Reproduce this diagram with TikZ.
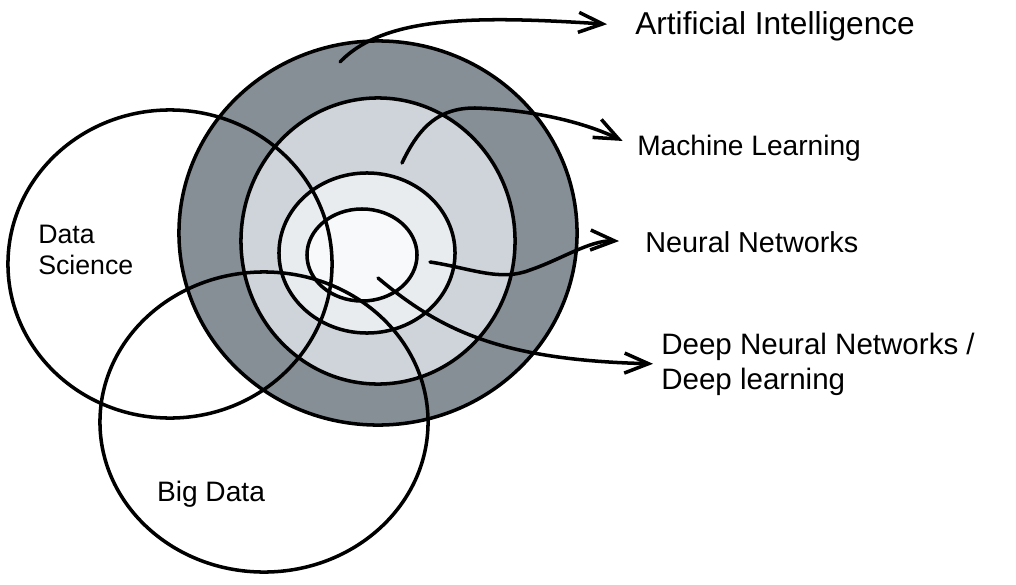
\documentclass[tikz,border=0pt]{standalone}
\usepackage{fontspec}
\setmainfont{Liberation Sans}
\usetikzlibrary{positioning,arrows.meta,shapes.geometric}
\definecolor{aigray}{HTML}{868E96}
\definecolor{mlgray}{HTML}{CED4DA}
\definecolor{nngray}{HTML}{E9ECEF}
\definecolor{dnngray}{HTML}{F8F9FA}
\begin{document}
\begin{tikzpicture}[x=0.025cm, y=-0.025cm, >={Straight Barb[length=6mm, width=5mm]},
    ring/.style={draw, ellipse, line width=2.5pt, inner sep=0pt},
    lbl/.style={font=\fontsize{20}{24}\selectfont, anchor=west, align=left, inner sep=0pt},
    arr/.style={->, line width=2.5pt, line cap=round}]
  \useasboundingbox (0,0) rectangle (1016,584);

  % nested AI circles
  \node[ring, fill=aigray, minimum width=9.95cm, minimum height=9.6cm] (ai) at (378,233) {};
  \node[ring, fill=mlgray, minimum width=6.85cm, minimum height=7.15cm] (ml) at (378,241) {};
  \node[ring, fill=nngray, minimum width=4.4cm, minimum height=4.0cm] (nn) at (367,253) {};
  \node[ring, fill=dnngray, minimum width=2.75cm, minimum height=2.3cm] (dnn) at (362,255) {};

  % overlapping fields
  \node[ring, minimum width=8.1cm, minimum height=7.7cm] (ds) at (170,264) {};
  \node[ring, minimum width=8.2cm, minimum height=7.5cm] (bd) at (264,422) {};
  \node[lbl, font=\fontsize{19}{22}\selectfont] (dslbl) at (38,250) {Data\\Science};
  \node[lbl, anchor=center] (bdlbl) at (211,494) {Big Data};

  % labels on the right
  \node[lbl, font=\fontsize{22.5}{26}\selectfont] (ailbl) at (635,26) {Artificial Intelligence};
  \node[lbl] (mllbl) at (637,148) {Machine Learning};
  \node[lbl, font=\fontsize{20.5}{24}\selectfont] (nnlbl) at (645,242) {Neural Networks};
  \node[lbl, font=\fontsize{21}{25}\selectfont] (dnnlbl) at (661,364) {Deep Neural Networks /\\Deep learning};

  \coordinate (aistart) at (340,62);
  \coordinate (mlstart) at (402,163);
  \coordinate (nnstart) at (430,262);
  \coordinate (dnnstart) at (378,278);

  \draw[arr, shorten >=28*0.025cm] (aistart) .. controls (385,15) and (480,16) .. (ailbl.west);
  \draw[arr, shorten >=16*0.025cm] (mlstart) .. controls (420,125) and (440,108) .. (475,108)
    .. controls (540,110) and (590,125) .. (mllbl.west);
  \draw[arr, shorten >=26*0.025cm] (nnstart) .. controls (470,268) and (500,282) .. (530,270)
    .. controls (560,260) and (590,240) .. (nnlbl.west);
  \draw[arr, shorten >=8*0.025cm] (dnnstart) .. controls (440,330) and (500,360) .. (dnnlbl.west);
\end{tikzpicture}
\end{document}
